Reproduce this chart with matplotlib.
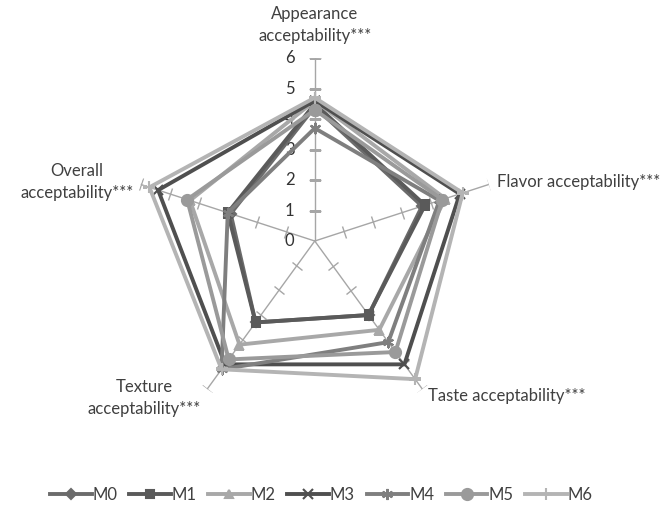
import numpy as np
import matplotlib
matplotlib.use("Agg")
import matplotlib.pyplot as plt
from matplotlib.markers import MarkerStyle
from matplotlib.transforms import Affine2D

plt.rcParams['font.family'] = ['Lato', 'DejaVu Sans']

# sensory scores per sample, clockwise from the top axis
attributes = ["Appearance\nacceptability***", "Flavor acceptability***",
              "Taste acceptability***", "Texture\nacceptability***",
              "Overall\nacceptability***"]
samples = ["M0", "M1", "M2", "M3", "M4", "M5", "M6"]
M0 = [4.4, 3.7, 3.0, 3.3, 2.9]
M1 = [4.5, 3.8, 3.0, 3.3, 3.0]
M2 = [4.6, 4.5, 3.6, 4.2, 4.3]
M3 = [4.6, 5.0, 5.0, 5.0, 5.4]
M4 = [3.7, 4.3, 4.1, 5.2, 3.0]
M5 = [4.3, 4.4, 4.5, 4.8, 4.4]
M6 = [4.7, 5.1, 5.6, 5.2, 5.7]
scores = [M0, M1, M2, M3, M4, M5, M6]
radial_ticks = [0, 1, 2, 3, 4, 5, 6]

colors = ["#6b6b6b", "#5a5a5a", "#a8a8a8", "#4f4f4f", "#7f7f7f", "#9a9a9a", "#b4b4b4"]
markers = ["D", "s", "^", "x", (6, 2, 0), "o", "+"]
msizes = [5, 6, 6, 7, 8, 8, 8]

n = len(attributes)
theta = np.linspace(0, 2 * np.pi, n, endpoint=False)

fig = plt.figure(figsize=(6.69, 5.09), dpi=100)
ax = fig.add_axes([0.197, 0.167, 0.547, 0.719], projection="polar")
ax.set_theta_offset(np.pi / 2)
ax.set_theta_direction(-1)
ax.set_ylim(0, 6)
ax.grid(False)
ax.spines["polar"].set_visible(False)
ax.set_xticks([])
ax.set_yticks([])

# spokes with small cross ticks at each unit
for t in theta:
    ax.plot([t, t], [0, 6], color="#a6a6a6", lw=1.0, zorder=1)
    ang = 90 - np.degrees(t)
    tick = MarkerStyle("|", transform=Affine2D().rotate_deg(ang + 180))
    ax.plot([t] * 6, radial_ticks[1:], ls="none", marker=tick,
            markersize=9, markeredgewidth=1.0, color="#a6a6a6", zorder=1)

for r in radial_ticks:
    ax.annotate(str(r), (0, r), xytext=(-18, 0), textcoords="offset points",
                ha="center", va="center", fontsize=12, color="#333333")

for name, vals, c, m, ms in zip(samples, scores, colors, markers, msizes):
    v = vals + vals[:1]
    t = np.append(theta, theta[0])
    ax.plot(t, v, color=c, lw=2.8, marker=m, markersize=ms,
            markeredgewidth=1.5, markerfacecolor=c, markeredgecolor=c,
            label=name, zorder=3)

fs = 12
ax.text(theta[0], 6.45, attributes[0], ha="center", va="bottom",
        fontsize=fs, color="#404040", linespacing=1.45)
ax.text(theta[1], 6.3, attributes[1], ha="left", va="center",
        fontsize=fs, color="#404040")
ax.text(theta[2], 6.3, attributes[2], ha="left", va="center",
        fontsize=fs, color="#404040")
ax.text(theta[3], 6.35, attributes[3], ha="right", va="center",
        fontsize=fs, color="#404040", multialignment="center", linespacing=1.45)
ax.text(theta[4], 6.25, attributes[4], ha="right", va="center",
        fontsize=fs, color="#404040", multialignment="center", linespacing=1.45)

fig.legend(loc="lower center", bbox_to_anchor=(0.48, -0.018), ncol=7,
           frameon=False, fontsize=fs, handlelength=2.5, columnspacing=0.7,
           handletextpad=0.05, labelcolor="#404040")

fig.savefig("out.png", dpi=100)
